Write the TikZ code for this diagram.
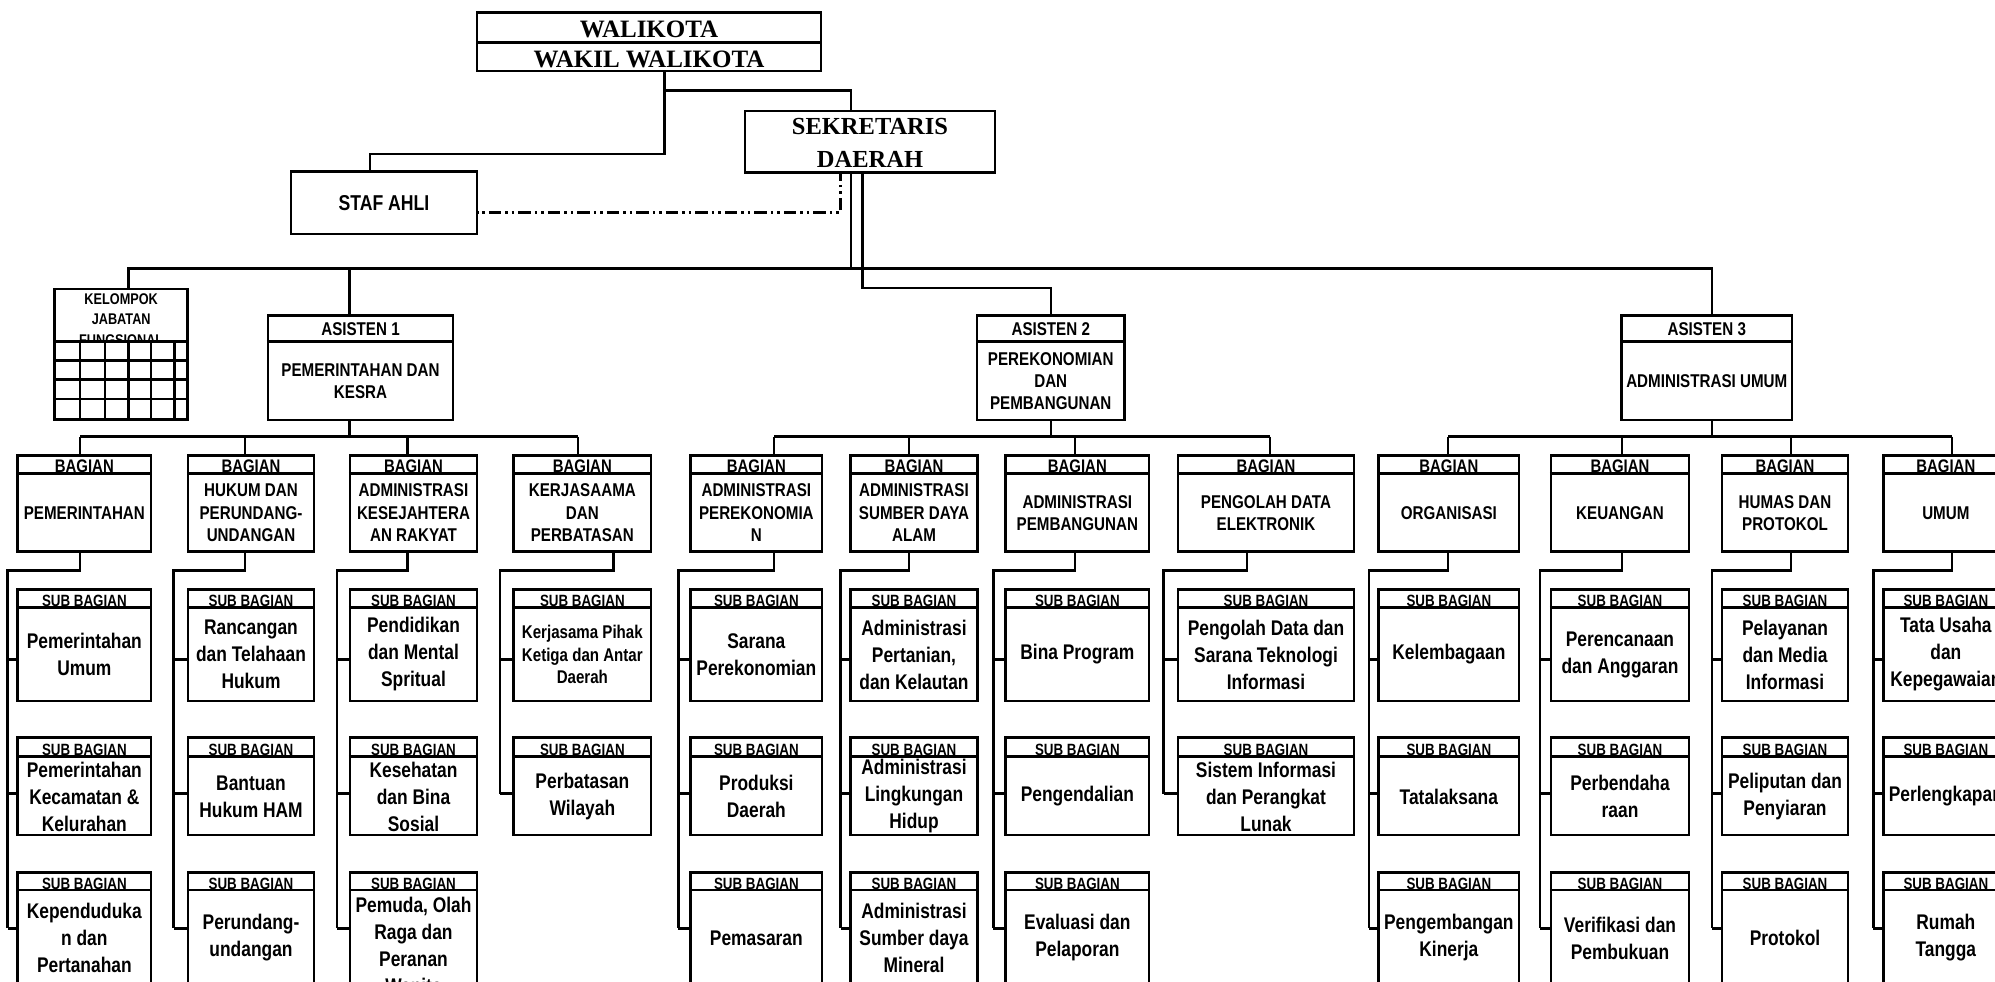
\documentclass[tikz,border=0pt]{standalone}
\usepackage{fontspec}
\setmainfont{Liberation Serif}
\newfontfamily\sn[FakeStretch=0.82]{Liberation Sans}
\tikzset{
 ln/.style={line width=2.5pt, line join=miter},
 dashln/.style={line width=2.8pt, dash pattern=on 12.7pt off 3.8pt on 2.7pt off 3.8pt on 2.7pt off 3.8pt, dash phase=19pt},
 bx/.style={draw, line width=2.5pt, inner sep=0pt},
 serifbig/.style={font=\bfseries\fontsize{25}{32.7}\selectfont, align=center, inner sep=0pt},
 asishdr/.style={font=\sn\bfseries\fontsize{18.5}{21.7}\selectfont, inner sep=0pt},
 asistxt/.style={font=\sn\bfseries\fontsize{18.5}{21.7}\selectfont, align=center, inner sep=0pt},
 baghdr/.style={font=\sn\bfseries\fontsize{18.2}{20}\selectfont, inner sep=0pt, anchor=base},
 bagtxt/.style={font=\sn\bfseries\fontsize{18.5}{22.5}\selectfont, align=center, inner sep=0pt},
 subhdr/.style={font=\sn\bfseries\fontsize{16.3}{18}\selectfont, inner sep=0pt, anchor=base},
 subtxt/.style={font=\sn\bfseries\fontsize{21.2}{27}\selectfont, align=center, inner sep=0pt},
 subsmall/.style={font=\sn\bfseries\fontsize{18.4}{22.5}\selectfont, align=center, inner sep=0pt},
 keltxt/.style={font=\sn\bfseries\fontsize{15.5}{20.5}\selectfont, align=center, inner sep=0pt},
 staftxt/.style={font=\sn\bfseries\fontsize{21.5}{24}\selectfont, inner sep=0pt},
}
% sub bagian box: #1 name, #2 left, #3 right, #4 row, #5 vertical x, #6 text style, #7 text
\newcommand\subbx[7]{%
 \ifcase#4\or
  \def\rT{589.7}\def\rB{701}\def\rD{607.5}\def\rC{654.5}\def\rS{659.5}%
 \or
  \def\rT{737.3}\def\rB{835}\def\rD{756.6}\def\rC{796.5}\def\rS{793.6}%
 \or
  \def\rT{872.3}\def\rB{987}\def\rD{890}\def\rC{938}\def\rS{928.4}%
 \fi
 \node[bx, minimum width={(#3-#2)*1pt}, minimum height={(\rB-\rT)*1pt}] (#1) at ({(#2+#3)/2},{(\rT+\rB)/2}) {};
 \draw[ln] (#1.west |- 0,\rD) -- (#1.east |- 0,\rD);
 \node[subhdr] at ({(#2+#3)/2},\rD-0.8) {SUB BAGIAN};
 \node[#6] at ({(#2+#3)/2},\rC) {#7};
 \draw[ln] (#5,\rS) -- (#1.west |- 0,\rS);
}
% bagian box: #1 name, #2 left, #3 right, #4 text
\newcommand\bagbx[4]{%
 \node[bx, minimum width={(#3-#2)*1pt}, minimum height=95.7pt] (#1) at ({(#2+#3)/2},503.45) {};
 \draw[ln] (#1.west |- 0,473.4) -- (#1.east |- 0,473.4);
 \node[baghdr] at ({(#2+#3)/2},472.6) {BAGIAN};
 \node[bagtxt] at ({(#2+#3)/2},513) {#4};
}
% connectors of a bagian: #1 name, #2 bottom x, #3 vertical x, #4 last stub y, #5 top drop x
\newcommand\bagconn[5]{%
 \draw[ln] (#5,436.7) -- (#5,0 |- #1.north);
 \draw[ln] (#2,0 |- #1.south) -- (#2,570.7) -- (#3,570.7) -- (#3,#4);
}
% asisten box
\newcommand\asbx[5]{%
 \node[bx, minimum width={(#3-#2)*1pt}, minimum height=104.3pt] (#1) at ({(#2+#3)/2},367.85) {};
 \draw[ln] (#1.west |- 0,341.7) -- (#1.east |- 0,341.7);
 \node[asishdr] at ({(#2+#3)/2},329) {#4};
 \node[asistxt] at ({(#2+#3)/2},381) {#5};
}
\begin{document}
\begin{tikzpicture}[x=1pt,y=-1pt]
\useasboundingbox (0,0) rectangle (1995,982);
\fill[white] (0,0) rectangle (1995,982);
\clip (0,0) rectangle (1995,982);

% ---- top ----
\node[bx, minimum width=344pt, minimum height=30pt] (wk1) at (649,27.7) {};
\node[bx, minimum width=344pt, minimum height=28.3pt] (wk2) at (649,56.85) {};
\node[serifbig] (wkt1) at (649,29) {WALIKOTA};
\node[serifbig] (wkt2) at (649,59.3) {WAKIL WALIKOTA};
\node[bx, minimum width=250pt, minimum height=61.3pt] (sek) at (870,141.65) {};
\node[serifbig, font=\bfseries\fontsize{24.5}{32.7}\selectfont] (sekt) at (870,143) {SEKRETARIS\\DAERAH};
\node[bx, minimum width=186pt, minimum height=62.3pt] (staf) at (384,202.85) {};
\node[staftxt] (staft) at (384,203.3) {STAF AHLI};

% kelompok jabatan fungsional
\node[bx, minimum width=133pt, minimum height=130.3pt] (kel) at (121.2,354.15) {};
\node[keltxt] (kelt) at (121.2,319.5) {KELOMPOK\\JABATAN\\FUNGSIONAL};
\fill[white] (56.2,342) rectangle (186.2,418);
\foreach \yy in {341.7,360.3,379.3,399} \draw[ln] (kel.west |- 0,\yy) -- (kel.east |- 0,\yy);
\foreach \xx in {80,105,128.3,151,174.3} \draw[ln] (\xx,341.7) -- (\xx,0 |- kel.south);

% asisten
\asbx{as1}{268}{453}{ASISTEN 1}{PEMERINTAHAN DAN\\KESRA}
\asbx{as2}{977}{1124.5}{ASISTEN 2}{PEREKONOMIAN\\DAN\\PEMBANGUNAN}
\asbx{as3}{1621.5}{1792}{ASISTEN 3}{ADMINISTRASI UMUM}

% top connectors
\draw[ln] (664.5,0 |- wk2.south) -- (664.5,154) -- (370,154) -- (370,0 |- staf.north);
\draw[ln] (664.5,90.3) -- (851,90.3) -- (851,0 |- sek.north);
\draw[dashln] (staf.east |- 0,212.7) -- (840.3,212.7) -- (840.3,0 |- sek.south);
\draw[ln] (851,0 |- sek.south) -- (851,268.5);
\draw[ln] (862.7,0 |- sek.south) -- (862.7,288) -- (1050.8,288) -- (1050.8,0 |- as2.north);
\draw[ln] (128.3,0 |- kel.north) -- (128.3,268.5) -- (1711.8,268.5) -- (1711.8,0 |- as3.north);
\draw[ln] (349.5,268.5) -- (349.5,0 |- as1.north);

% asisten sub buses
\draw[ln] (349.5,0 |- as1.south) -- (349.5,436.7);
\draw[ln] (80,436.7) -- (578,436.7);
\draw[ln] (1050.8,0 |- as2.south) -- (1050.8,436.7);
\draw[ln] (774,436.7) -- (1270,436.7);
\draw[ln] (1711.8,0 |- as3.south) -- (1711.8,436.7);
\draw[ln] (1448,436.7) -- (1952,436.7);

% ---- column 1: PEMERINTAHAN ----
\bagbx{b1}{17.7}{151}{PEMERINTAHAN}
\bagconn{b1}{80}{7.7}{928.4}{80}
\subbx{s11}{17.7}{151}{1}{7.7}{subtxt}{Pemerintahan\\Umum}
\subbx{s12}{17.7}{151}{2}{7.7}{subtxt}{Pemerintahan\\Kecamatan \&\\Kelurahan}
\subbx{s13}{17.7}{151}{3}{7.7}{subtxt}{Kependuduka\\n dan\\Pertanahan}

% ---- column 2: HUKUM ----
\bagbx{b2}{188}{314}{HUKUM DAN\\PERUNDANG-\\UNDANGAN}
\bagconn{b2}{245}{173.7}{928.4}{245}
\subbx{s21}{188}{314}{1}{173.7}{subtxt}{Rancangan\\dan Telahaan\\Hukum}
\subbx{s22}{188}{314}{2}{173.7}{subtxt}{Bantuan\\Hukum HAM}
\subbx{s23}{188}{314}{3}{173.7}{subtxt}{Perundang-\\undangan}

% ---- column 3: KESRA ----
\bagbx{b3}{350}{477}{ADMINISTRASI\\KESEJAHTERA\\AN RAKYAT}
\bagconn{b3}{407.7}{336.8}{928.4}{407.7}
\subbx{s31}{350}{477}{1}{336.8}{subtxt}{Pendidikan\\dan Mental\\Spritual}
\subbx{s32}{350}{477}{2}{336.8}{subtxt}{Kesehatan\\dan Bina\\Sosial}
\subbx{s33}{350}{477}{3}{336.8}{{subtxt,yshift=-7pt}}{Pemuda, Olah\\Raga dan\\Peranan\\Wanita}

% ---- column 4: KERJASAMA ----
\bagbx{b4}{513.7}{651}{KERJASAAMA\\DAN\\PERBATASAN}
\bagconn{b4}{613.3}{500}{793.6}{578}
\subbx{s41}{513.7}{651}{1}{500}{subsmall}{Kerjasama Pihak\\Ketiga dan Antar\\Daerah}
\subbx{s42}{513.7}{651}{2}{500}{subtxt}{Perbatasan\\Wilayah}

% ---- column 5: ADM PEREKONOMIAN ----
\bagbx{b5}{690.7}{822}{ADMINISTRASI\\PEREKONOMIA\\N}
\bagconn{b5}{774}{678.3}{928.4}{774}
\subbx{s51}{690.7}{822}{1}{678.3}{subtxt}{Sarana\\Perekonomian}
\subbx{s52}{690.7}{822}{2}{678.3}{subtxt}{Produksi\\Daerah}
\subbx{s53}{690.7}{822}{3}{678.3}{subtxt}{Pemasaran}

% ---- column 6: ADM SDA ----
\bagbx{b6}{850.7}{977.3}{ADMINISTRASI\\SUMBER DAYA\\ALAM}
\bagconn{b6}{909}{840.7}{928.4}{909}
\subbx{s61}{850.7}{977.3}{1}{840.7}{subtxt}{Administrasi\\Pertanian,\\dan Kelautan}
\subbx{s62}{850.7}{977.3}{2}{840.7}{subtxt}{Administrasi\\Lingkungan\\Hidup}
\subbx{s63}{850.7}{977.3}{3}{840.7}{subtxt}{Administrasi\\Sumber daya\\Mineral}

% ---- column 7: ADM PEMBANGUNAN ----
\bagbx{b7}{1005.7}{1149}{ADMINISTRASI\\PEMBANGUNAN}
\bagconn{b7}{1075}{993.3}{928.4}{1075}
\subbx{s71}{1005.7}{1149}{1}{993.3}{subtxt}{Bina Program}
\subbx{s72}{1005.7}{1149}{2}{993.3}{subtxt}{Pengendalian}
\subbx{s73}{1005.7}{1149}{3}{993.3}{subtxt}{Evaluasi dan\\Pelaporan}

% ---- column 8: PENGOLAH DATA ----
\bagbx{b8}{1178}{1354}{PENGOLAH DATA\\ELEKTRONIK}
\bagconn{b8}{1247}{1163.7}{793.6}{1270}
\subbx{s81}{1178}{1354}{1}{1163.7}{subtxt}{Pengolah Data dan\\Sarana Teknologi\\Informasi}
\subbx{s82}{1178}{1354}{2}{1163.7}{subtxt}{Sistem Informasi\\dan Perangkat\\Lunak}

% ---- column 9: ORGANISASI ----
\bagbx{b9}{1378.7}{1519}{ORGANISASI}
\bagconn{b9}{1448}{1369}{928.4}{1448}
\subbx{s91}{1378.7}{1519}{1}{1369}{subtxt}{Kelembagaan}
\subbx{s92}{1378.7}{1519}{2}{1369}{subtxt}{Tatalaksana}
\subbx{s93}{1378.7}{1519}{3}{1369}{subtxt}{Pengembangan\\Kinerja}

% ---- column 10: KEUANGAN ----
\bagbx{b10}{1551}{1689}{KEUANGAN}
\bagconn{b10}{1622}{1540}{928.4}{1622}
\subbx{s101}{1551}{1689}{1}{1540}{subtxt}{Perencanaan\\dan Anggaran}
\subbx{s102}{1551}{1689}{2}{1540}{subtxt}{Perbendaha\\raan}
\subbx{s103}{1551}{1689}{3}{1540}{subtxt}{Verifikasi dan\\Pembukuan}

% ---- column 11: HUMAS ----
\bagbx{b11}{1722}{1848}{HUMAS DAN\\PROTOKOL}
\bagconn{b11}{1791}{1712}{928.4}{1791}
\subbx{s111}{1722}{1848}{1}{1712}{subtxt}{Pelayanan\\dan Media\\Informasi}
\subbx{s112}{1722}{1848}{2}{1712}{subtxt}{Peliputan dan\\Penyiaran}
\subbx{s113}{1722}{1848}{3}{1712}{subtxt}{Protokol}

% ---- column 12: UMUM ----
\bagbx{b12}{1883.7}{2008}{UMUM}
\bagconn{b12}{1952}{1873.3}{928.4}{1952}
\subbx{s121}{1883.7}{2008}{1}{1873.3}{subtxt}{Tata Usaha\\dan\\Kepegawaian}
\subbx{s122}{1883.7}{2008}{2}{1873.3}{subtxt}{Perlengkapan}
\subbx{s123}{1883.7}{2008}{3}{1873.3}{subtxt}{Rumah\\Tangga}
\end{tikzpicture}
\end{document}
